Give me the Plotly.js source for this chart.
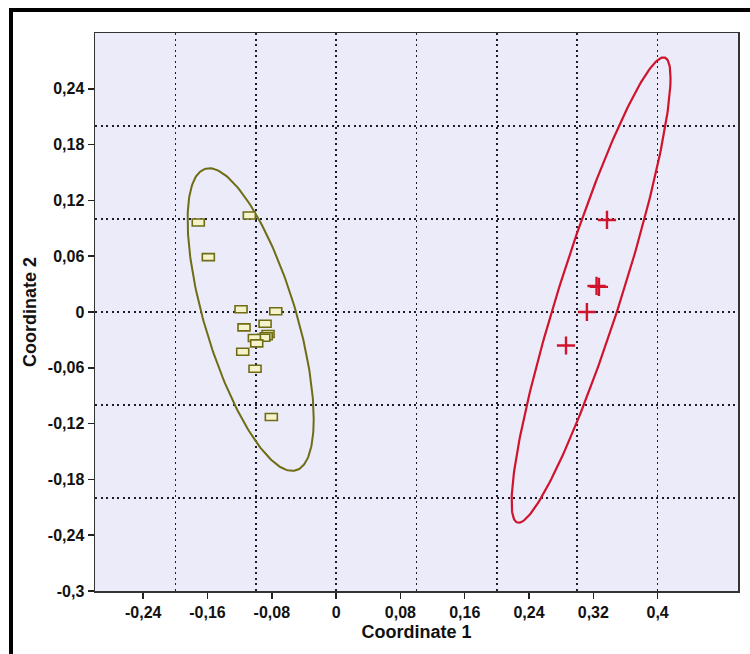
<!DOCTYPE html>
<html>
<head>
<meta charset="utf-8">
<script src="https://cdn.plot.ly/plotly-3.0.1.min.js"></script>
<style>
  html, body { margin: 0; padding: 0; background: #ffffff; }
  #wrap { position: relative; width: 750px; height: 654px; overflow: hidden; }
  #chart { position: absolute; left: 0; top: 0; width: 750px; height: 654px; }
  #frame { position: absolute; left: 9px; top: 8px; width: 760px; height: 680px;
           border-left: 4px solid #000; border-top: 4px solid #000; pointer-events: none; }
</style>
</head>
<body>
<div id="wrap">
  <div id="chart"></div>
  <div id="frame"></div>
</div>
<script>
// ---- data ----
const groupAx = [-0.1715, -0.1080, -0.1590, -0.1183, -0.0751, -0.1146, -0.0884,
                 -0.0847, -0.0870, -0.0900, -0.1017, -0.0988, -0.1162, -0.1009, -0.0806];
const groupAy = [0.0963, 0.1038, 0.0590, 0.0029, 0.0008, -0.0165, -0.0126,
                 -0.0237, -0.0260, -0.0277, -0.0280, -0.0337, -0.0428, -0.0611, -0.1129];
const groupBx = [0.337, 0.324, 0.327, 0.312, 0.286];
const groupBy = [0.099, 0.028, 0.027, 0.000, -0.036];

const xTickVals = [-0.24, -0.16, -0.08, 0, 0.08, 0.16, 0.24, 0.32, 0.4];
const xTickText = ['-0,24', '-0,16', '-0,08', '0', '0,08', '0,16', '0,24', '0,32', '0,4'];
const yTickVals = [-0.3, -0.24, -0.18, -0.12, -0.06, 0, 0.06, 0.12, 0.18, 0.24];
const yTickText = ['-0,3', '-0,24', '-0,18', '-0,12', '-0,06', '0', '0,06', '0,12', '0,18', '0,24'];

// ---- 95% ellipse computed from each group's points ----
function ellipse95(xs, ys) {
  const n = xs.length;
  const mx = xs.reduce((a, b) => a + b, 0) / n;
  const my = ys.reduce((a, b) => a + b, 0) / n;
  let sxx = 0, syy = 0, sxy = 0;
  for (let i = 0; i < n; i++) {
    sxx += (xs[i] - mx) ** 2; syy += (ys[i] - my) ** 2; sxy += (xs[i] - mx) * (ys[i] - my);
  }
  sxx /= (n - 1); syy /= (n - 1); sxy /= (n - 1);
  const m = n - 2;
  const F = (m / 2) * (Math.pow(0.05, -2 / m) - 1);   // F(0.95; 2, n-2)
  const s = 2 * (n - 1) / (n - 2) * F;
  const L11 = Math.sqrt(s * sxx);
  const L21 = s * sxy / L11;
  const L22 = Math.sqrt(s * syy - L21 * L21);
  const ex = [], ey = [];
  for (let k = 0; k <= 240; k++) {
    const t = 2 * Math.PI * k / 240;
    ex.push(mx + L11 * Math.cos(t));
    ey.push(my + L21 * Math.cos(t) + L22 * Math.sin(t));
  }
  return { x: ex, y: ey };
}

const olive = '#6f6c14';
const red = '#d0142c';
const eA = ellipse95(groupAx, groupAy);
const eB = ellipse95(groupBx, groupBy);

const traces = [
  { x: [], y: [], xaxis: 'x2', yaxis: 'y2', type: 'scatter', mode: 'markers',
    hoverinfo: 'skip', showlegend: false },
  { x: eA.x, y: eA.y, type: 'scatter', mode: 'lines',
    line: { color: olive, width: 2 }, hoverinfo: 'skip', showlegend: false },
  { x: eB.x, y: eB.y, type: 'scatter', mode: 'lines',
    line: { color: red, width: 2.2 }, hoverinfo: 'skip', showlegend: false },
  { x: groupBx, y: groupBy, type: 'scatter', mode: 'markers',
    marker: { symbol: 'cross-thin-open', size: 13, color: red, line: { color: red, width: 2.4 } },
    showlegend: false }
];

// rectangle markers for group A: fixed pixel size, anchored at data values
const rectShapes = groupAx.map((x, i) => ({
  type: 'rect', xref: 'x', yref: 'y',
  xsizemode: 'pixel', ysizemode: 'pixel',
  xanchor: x, yanchor: groupAy[i],
  x0: -6, x1: 6, y0: -3.5, y1: 3.5,
  fillcolor: '#f5f3cc', line: { color: olive, width: 1.6 }
}));

const tickFont = { family: 'Liberation Sans, Arial, sans-serif', size: 16, color: '#111', weight: 'bold' };
const layout = {
  width: 750, height: 654,
  margin: { l: 95, r: 12, t: 33, b: 63 },
  paper_bgcolor: '#ffffff',
  plot_bgcolor: '#ebebfa',
  showlegend: false,
  font: { family: 'Liberation Sans, Arial, sans-serif', color: '#111' },
  shapes: rectShapes,
  xaxis: {
    range: [-0.3, 0.5], autorange: false, showgrid: false, zeroline: false,
    tickmode: 'array', tickvals: xTickVals, ticktext: xTickText,
    ticks: 'outside', ticklen: 6, tickwidth: 1.5, tickcolor: '#222',
    tickfont: tickFont,
    showline: true, linecolor: '#333', linewidth: 1.5, mirror: true,
    title: { text: '<b>Coordinate 1</b>', font: { size: 18, color: '#111' }, standoff: 5 }
  },
  yaxis: {
    range: [-0.3, 0.3], autorange: false, showgrid: false, zeroline: false,
    tickmode: 'array', tickvals: yTickVals, ticktext: yTickText,
    ticks: 'outside', ticklen: 6, tickwidth: 1.5, tickcolor: '#222',
    tickfont: tickFont,
    showline: true, linecolor: '#333', linewidth: 1.5, mirror: true,
    title: { text: '<b>Coordinate 2</b>', font: { size: 18, color: '#111' }, standoff: 6 }
  },
  xaxis2: {
    overlaying: 'x', anchor: 'y2', side: 'bottom', range: [-0.3, 0.5], autorange: false,
    tickmode: 'linear', tick0: 0, dtick: 0.1, showticklabels: false, ticks: '',
    showgrid: true, gridcolor: '#1c1c2c', griddash: '2px,3.5px', gridwidth: 1.6,
    zeroline: false, showline: false
  },
  yaxis2: {
    overlaying: 'y', anchor: 'x2', side: 'left', range: [-0.3, 0.3], autorange: false,
    tickmode: 'linear', tick0: 0, dtick: 0.1, showticklabels: false, ticks: '',
    showgrid: true, gridcolor: '#1c1c2c', griddash: '2px,3.5px', gridwidth: 1.6,
    zeroline: false, showline: false
  }
};

Plotly.newPlot('chart', traces, layout, { staticPlot: true, displayModeBar: false });
</script>
</body>
</html>
